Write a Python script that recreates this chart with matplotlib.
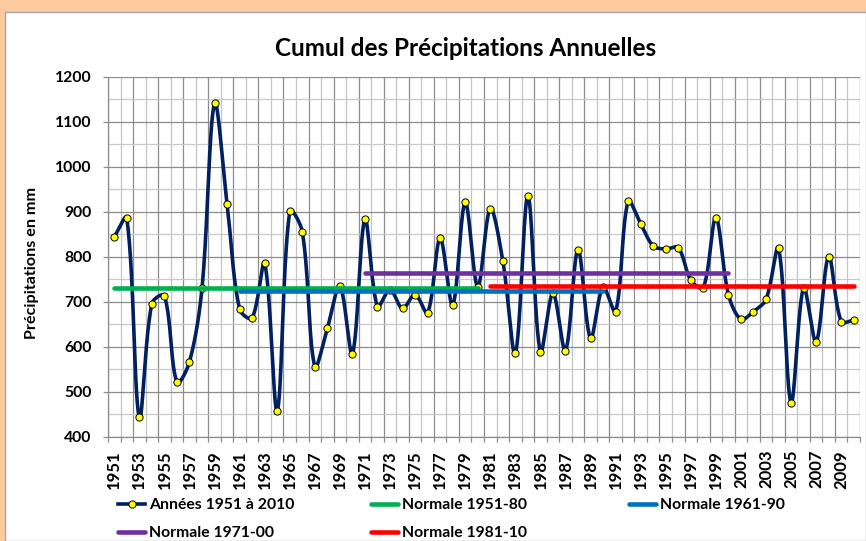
import numpy as np
import matplotlib
matplotlib.use("Agg")
import matplotlib.pyplot as plt
from matplotlib.lines import Line2D
from matplotlib.patches import Rectangle

# ---------------- data ----------------
years = list(range(1951, 2011))
precip = [844, 886, 443, 696, 713, 521, 566, 730, 1141, 918,
          683, 664, 785, 458, 901, 856, 556, 641, 736, 584,
          883, 689, 727, 685, 716, 675, 841, 692, 921, 733,
          907, 791, 585, 936, 588, 719, 591, 816, 619, 732,
          678, 923, 873, 824, 817, 820, 748, 731, 886, 716,
          661, 678, 705, 819, 476, 731, 611, 800, 656, 659]
series_label = "Années 1951 à 2010"
normal_labels = ["Normale 1951-80", "Normale 1961-90", "Normale 1971-00", "Normale 1981-10"]
normal_start = [1951, 1961, 1971, 1981]
normal_end = [1980, 1990, 2000, 2010]
normal_values = [730, 724, 763, 736]
normal_colors = ["#00B050", "#0070C0", "#7030A0", "#FF0000"]
tick_years = years[::2]
y_ticks = list(range(400, 1201, 100))

title = "Cumul des Précipitations Annuelles"
ylabel = "Précipitations en mm"

W, H = 866, 541
FONT = "Lato"
NAVY = "#002060"

left_px, right_px = 108, 860
top_px, bottom_px = 76.7, 436.7


def excel_smooth(x, y, sx, sy, n=30):
    """Bezier smoothing similar to Excel's smoothed line (computed in screen space)."""
    x = np.asarray(x, float) * sx
    y = np.asarray(y, float) * sy
    P = np.column_stack([x, y])
    m = len(P)
    f = 1.0 / 6.0
    t = np.linspace(0, 1, n, endpoint=False)[:, None]
    out = []
    for i in range(m - 1):
        p0 = P[i]
        p3 = P[i + 1]
        pm = P[i - 1] if i > 0 else P[i]
        pn = P[i + 2] if i + 2 < m else P[i + 1]
        d01 = np.linalg.norm(p0 - pm)
        d12 = np.linalg.norm(p3 - p0)
        d23 = np.linalg.norm(pn - p3)
        f1 = 2 * f * d12 / (d01 + d12) if d01 + d12 > 0 else f
        f2 = 2 * f * d12 / (d12 + d23) if d12 + d23 > 0 else f
        c1 = p0 + (p3 - pm) * f1
        c2 = p3 - (pn - p0) * f2
        seg = ((1 - t) ** 3) * p0 + 3 * ((1 - t) ** 2) * t * c1 + 3 * (1 - t) * t ** 2 * c2 + t ** 3 * p3
        out.append(seg)
    out.append(P[-1][None, :])
    out = np.vstack(out)
    return out[:, 0] / sx, out[:, 1] / sy


fig = plt.figure(figsize=(W / 100, H / 100), dpi=100)
fig.patch.set_facecolor("#FBCA9E")
fig.add_artist(Rectangle((5 / W, 0), 1 - 5 / W, (H - 12) / H, transform=fig.transFigure,
                         facecolor="white", edgecolor="#A6A6A6", lw=1.0, zorder=0))

ax = fig.add_axes([left_px / W, (H - bottom_px) / H, (right_px - left_px) / W, (bottom_px - top_px) / H])
ax.set_facecolor("white")
ax.set_xlim(years[0] - 0.5, years[-1] + 0.5)
ax.set_ylim(y_ticks[0], y_ticks[-1])

# grid
bounds = np.arange(years[0] - 0.5, years[-1] + 0.51, 1.0)
for k, b in enumerate(bounds):
    ax.axvline(b, color="#8C8C8C" if k % 2 == 0 else "#C4C4C4", lw=0.9, zorder=1)
for v in np.arange(y_ticks[0], y_ticks[-1] + 1, 50):
    ax.axhline(v, color="#8C8C8C" if v % 100 == 0 else "#C8C8C8", lw=0.9, zorder=1)

# series (smoothed in pixel space)
px_per_year = (right_px - left_px) / len(years)
px_per_mm = (bottom_px - top_px) / (y_ticks[-1] - y_ticks[0])
sx_, sy_ = excel_smooth(years, precip, px_per_year, px_per_mm)
ax.plot(sx_, sy_, color=NAVY, lw=2.6, zorder=3, solid_capstyle="round")
ax.plot(years, precip, ls="none", marker="o", ms=5.2, mfc="#FFFF00", mec="black", mew=0.7, zorder=4)

# normals
for lab, s, e, v, c in zip(normal_labels, normal_start, normal_end, normal_values, normal_colors):
    ax.plot([s, e], [v, v], color=c, lw=3.3, solid_capstyle="round", zorder=5)

# axes styling
for sp in ["top", "right"]:
    ax.spines[sp].set_visible(False)
for sp in ["left", "bottom"]:
    ax.spines[sp].set_color("#8C8C8C")
    ax.spines[sp].set_linewidth(0.9)

ax.set_xticks(tick_years)
ax.set_xticklabels([str(yv) for yv in tick_years], rotation=90, fontfamily=FONT,
                   fontweight="bold", fontsize=12)
ax.set_xticks(bounds, minor=True)
ax.tick_params(axis="x", which="major", length=0, pad=9.5)
ax.tick_params(axis="x", which="minor", length=3.6, color="#8C8C8C", width=0.9)
ax.set_yticks(y_ticks)
ax.set_yticklabels([str(v) for v in y_ticks], fontfamily=FONT, fontweight="bold", fontsize=11.3)
ax.tick_params(axis="y", which="major", length=3.6, color="#8C8C8C", width=0.9, pad=8.4)

fig.text(466 / W, 1 - 49 / H, title, ha="center", va="center", fontfamily=FONT,
         fontweight="bold", fontsize=17.5)
fig.text(32 / W, 1 - 263 / H, ylabel, ha="center", va="center", rotation=90,
         fontfamily=FONT, fontweight="bold", fontsize=11.6)

# legend
fsz = 11.3
fs = fsz * 100 / 72
handles = [Line2D([], [], color=NAVY, lw=2.6, marker="o", ms=5.2, mfc="#FFFF00", mec="black", mew=0.7)]
labels = [series_label]
for lab, c in zip(normal_labels, normal_colors):
    handles.append(Line2D([], [], color=c, lw=3.3, solid_capstyle="round"))
    labels.append(lab)
positions = [(118, 505), (371, 505), (629, 505), (118, 533), (371, 533)]
for h, l, (px, py) in zip(handles, labels, positions):
    fig.legend(handles=[h], labels=[l], loc="center left", bbox_to_anchor=(px / W, 1 - py / H),
               frameon=False, borderpad=0, borderaxespad=0, handlelength=27 / fs,
               handletextpad=4 / fs, prop={"family": FONT, "weight": "bold", "size": fsz})

fig.savefig("out.png", dpi=100, facecolor=fig.get_facecolor())
